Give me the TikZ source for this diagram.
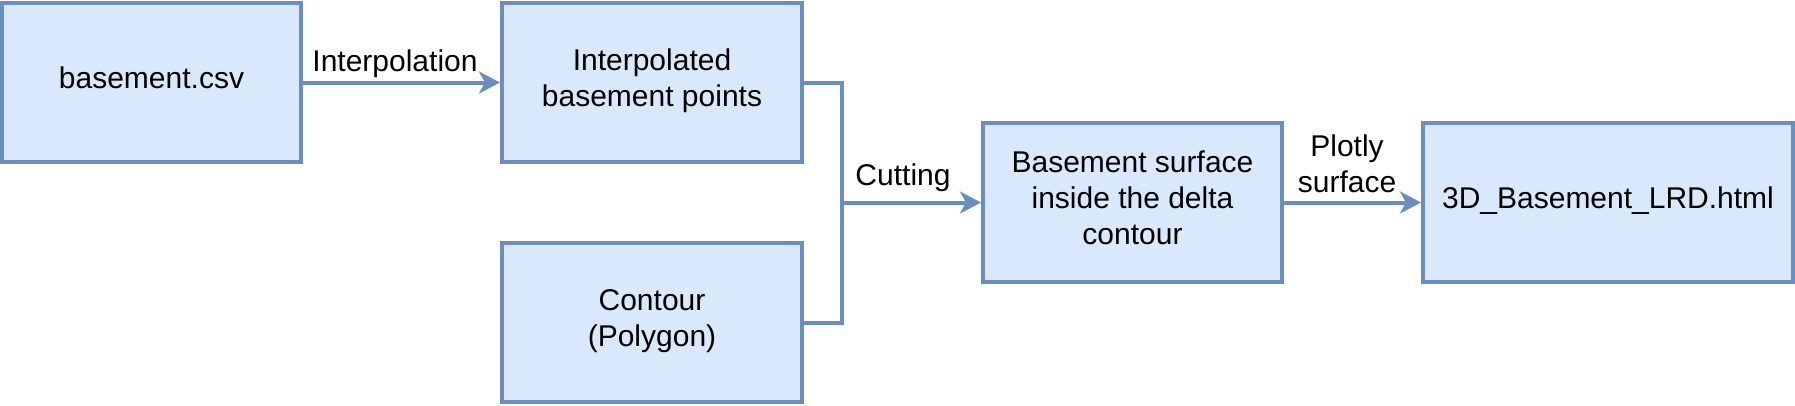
\documentclass[tikz,border=0pt]{standalone}
\usepackage{fontspec}
\setmainfont{Liberation Sans}
\usetikzlibrary{arrows.meta}
\definecolor{boxfill}{HTML}{DAE8FC}
\definecolor{boxline}{HTML}{6C8EBF}
\newcommand{\lstr}{\rule[-12pt]{0pt}{36pt}}
\tikzset{
  x=1pt, y=-1pt,
  txt/.style={font=\fontsize{30}{36}\selectfont, align=center, inner sep=0pt},
  box/.style={txt, draw=boxline, fill=boxfill, line width=4pt, minimum height=159pt},
  conn/.style={draw=boxline, line width=4pt, line join=miter},
  arr/.style={conn, -{Stealth[length=21pt,width=22pt,inset=6pt]}},
}
\begin{document}
\begin{tikzpicture}
\useasboundingbox (0,0) rectangle (1795,405);
\node[box, minimum width=299pt] (b1) at (151.5,82.5) {\lstr basement.csv};
\node[box, minimum width=300pt] (b2) at (652,82.5) {\lstr Interpolated\\\lstr basement points};
\node[box, minimum width=300pt] (b3) at (652,322.5) {\lstr Contour\\\lstr (Polygon)};
\node[box, minimum width=299pt] (b4) at (1132.5,202.5) {\lstr Basement surface\\\lstr inside the delta\\\lstr contour};
\node[box, minimum width=370pt] (b5) at (1608,202.5) {\lstr 3D\_Basement\_LRD.html};
\coordinate (j) at (842,202.5);
\draw[arr] (b1.east) -- (b2.west);
\draw[conn] (b2.east) -| (j) |- (b3.east);
\draw[arr] (j) -- (b4.west);
\draw[arr] (b4.east) -- (b5.west);
\node[txt, anchor=north] (l1) at (395,47) {\lstr Interpolation};
\node[txt, anchor=north] (l2) at (903,161) {\lstr Cutting};
\node[txt, anchor=north] (l3) at (1347,132) {\lstr Plotly\\\lstr surface};
\end{tikzpicture}
\end{document}
